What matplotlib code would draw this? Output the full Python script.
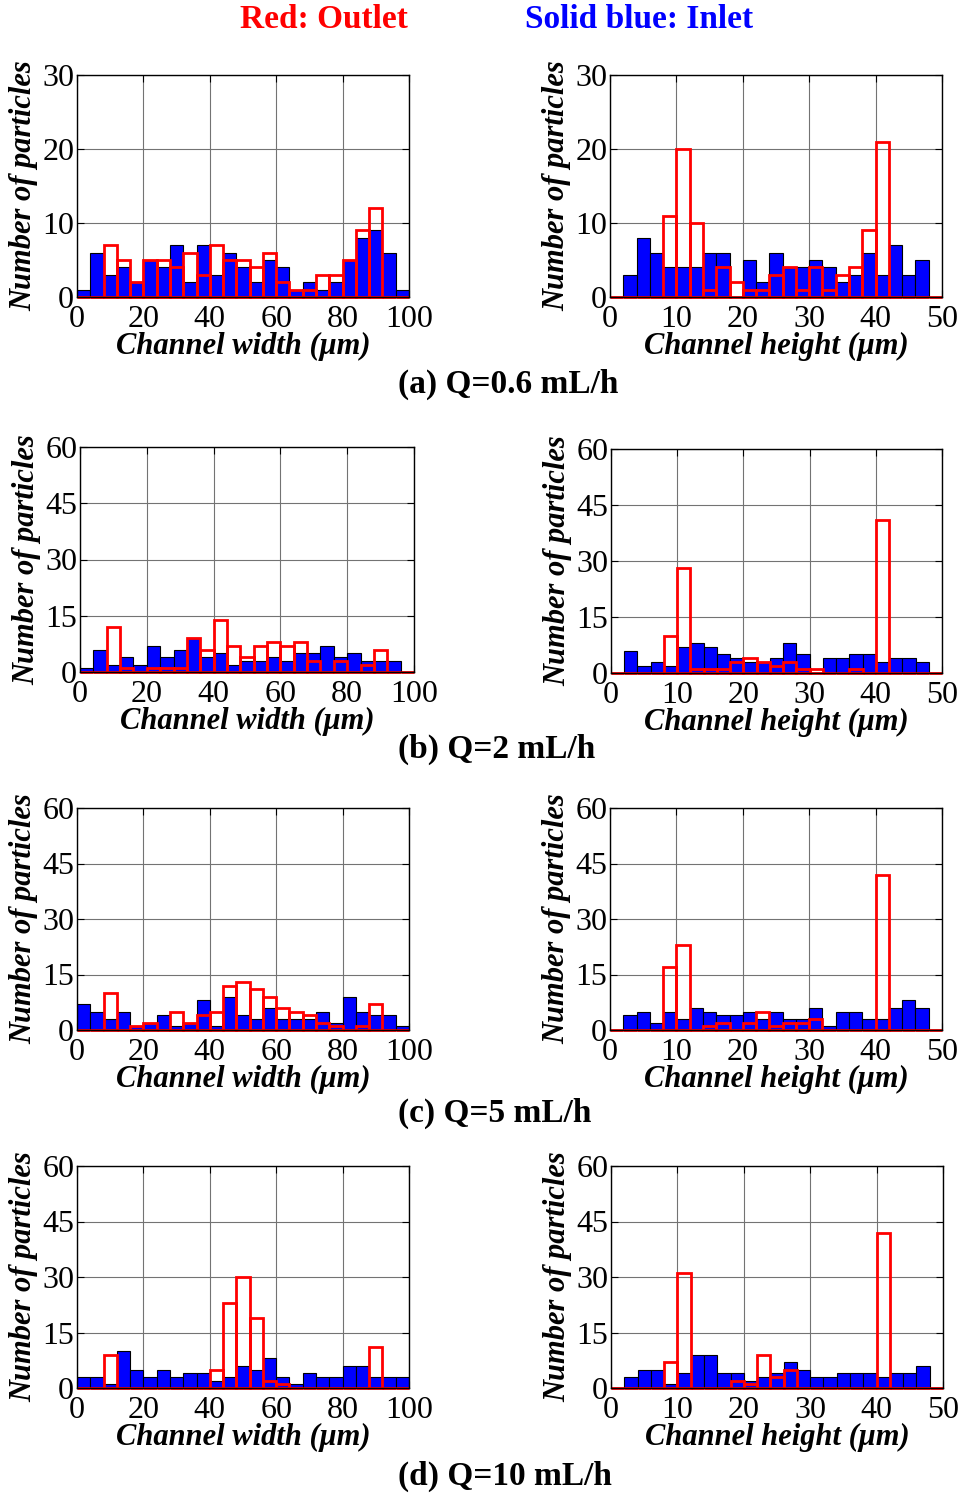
import matplotlib
matplotlib.use("Agg")
import matplotlib.pyplot as plt
import numpy as np

plt.rcParams['font.family'] = ['Liberation Serif', 'DejaVu Serif']

W, H = 964, 1497
my_dpi = 100

# histogram counts, 25 bins each (width: 0-100 um, height: 0-50 um)
width_in_a = [1, 6, 3, 4, 2, 5, 4, 7, 2, 7, 3, 6, 4, 2, 5, 4, 1, 2, 1, 2, 5, 8, 9, 6, 1]
width_out_a = [0, 0, 7, 5, 2, 5, 5, 4, 6, 3, 7, 5, 5, 4, 6, 2, 1, 1, 3, 3, 5, 9, 12, 0, 0]
height_in_a = [0, 3, 8, 6, 4, 4, 4, 6, 6, 0, 5, 2, 6, 4, 4, 5, 4, 2, 3, 6, 3, 7, 3, 5, 0]
height_out_a = [0, 0, 0, 0, 11, 20, 10, 1, 4, 2, 1, 1, 3, 4, 1, 4, 1, 3, 4, 9, 21, 0, 0, 0, 0]

width_in_b = [1, 6, 2, 4, 2, 7, 4, 6, 9, 4, 5, 2, 3, 3, 4, 3, 5, 5, 7, 4, 5, 3, 3, 3, 0]
width_out_b = [0, 0, 12, 1, 0, 1, 1, 1, 9, 6, 14, 7, 4, 7, 8, 7, 8, 3, 0, 3, 0, 2, 6, 0, 0]
height_in_b = [0, 6, 2, 3, 2, 7, 8, 7, 5, 4, 3, 3, 4, 8, 5, 0, 4, 4, 5, 5, 3, 4, 4, 3, 0]
height_out_b = [0, 0, 0, 0, 10, 28, 1, 1, 1, 3, 4, 3, 2, 3, 1, 1, 0, 0, 1, 0, 41, 0, 0, 0, 0]

width_in_c = [7, 5, 3, 5, 1, 2, 4, 1, 2, 8, 1, 9, 4, 3, 6, 3, 3, 3, 5, 2, 9, 5, 4, 4, 1]
width_out_c = [0, 0, 10, 0, 1, 2, 0, 5, 2, 4, 5, 12, 13, 11, 9, 6, 5, 4, 2, 1, 0, 1, 7, 0, 0]
height_in_c = [0, 4, 5, 2, 5, 3, 6, 5, 4, 4, 5, 3, 5, 3, 3, 6, 1, 5, 5, 3, 3, 6, 8, 6, 0]
height_out_c = [0, 0, 0, 0, 17, 23, 0, 1, 2, 0, 2, 5, 1, 2, 2, 3, 0, 0, 0, 0, 42, 0, 0, 0, 0]

width_in_d = [3, 3, 1, 10, 5, 3, 5, 3, 4, 4, 2, 3, 6, 5, 8, 3, 1, 4, 3, 3, 6, 6, 3, 3, 3]
width_out_d = [0, 0, 9, 0, 0, 0, 0, 0, 0, 0, 5, 23, 30, 19, 2, 1, 0, 0, 0, 0, 0, 0, 11, 0, 0]
height_in_d = [0, 3, 5, 5, 1, 4, 9, 9, 4, 4, 2, 3, 4, 7, 5, 3, 3, 4, 4, 4, 3, 4, 4, 6, 0]
height_out_d = [0, 0, 0, 0, 7, 31, 0, 0, 0, 2, 1, 9, 3, 5, 0, 0, 0, 0, 0, 0, 42, 0, 0, 0, 0]

captions = ["(a) Q=0.6 mL/h", "(b) Q=2 mL/h", "(c) Q=5 mL/h", "(d) Q=10 mL/h"]
ymax = [30, 60, 60, 60]
ystep = [10, 15, 15, 15]

rows = [
    (width_in_a, width_out_a, height_in_a, height_out_a),
    (width_in_b, width_out_b, height_in_b, height_out_b),
    (width_in_c, width_out_c, height_in_c, height_out_c),
    (width_in_d, width_out_d, height_in_d, height_out_d),
]

# axes boxes in pixels: (left, top, right, bottom)
boxes_left = [(77, 75, 409, 297), (80, 447, 414, 672), (77, 808, 409, 1030), (77, 1166, 409, 1388)]
boxes_right = [(610, 75, 942, 297), (611, 449, 942, 673), (610, 808, 942, 1030), (611, 1166, 943, 1388)]
caption_y = [384, 749, 1113, 1476]

tick_fs = 23
label_fs = 22

fig = plt.figure(figsize=(W / my_dpi, H / my_dpi), dpi=my_dpi)


def px_axes(box):
    x0, y0, x1, y1 = box
    return fig.add_axes([x0 / W, 1 - y1 / H, (x1 - x0) / W, (y1 - y0) / H])


def draw_hist(box, inlet, outlet, xmax, top, step, xlabel):
    ax = px_axes(box)
    nb = len(inlet)
    bw = xmax / nb
    edges = np.arange(nb) * bw
    ax.bar(edges, inlet, width=bw, align='edge', color='#0000ff',
           edgecolor='black', linewidth=0.8, zorder=2)
    ax.bar(edges, outlet, width=bw, align='edge', fill=False,
           edgecolor='#ff0000', linewidth=2.0, zorder=3, clip_on=False)
    ax.set_xlim(0, xmax)
    ax.set_ylim(0, top)
    ax.set_xticks(np.arange(0, xmax + 1, xmax // 5))
    ax.set_yticks(np.arange(0, top + 1, step))
    ax.grid(True, color='0.45', linewidth=0.8, zorder=0)
    ax.set_axisbelow(True)
    ax.tick_params(direction='in', length=5, width=0.8, labelsize=tick_fs,
                   top=True, right=True)
    ax.tick_params(axis='x', pad=6)
    ax.tick_params(axis='y', pad=2)
    for s in ax.spines.values():
        s.set_linewidth(1.0)
        s.set_zorder(4)
    x0, y0, x1, y1 = box
    fig.text((x0 + x1) / 2 / W, 1 - (y1 + 49) / H, xlabel, ha='center', va='center',
             fontsize=label_fs, fontweight='bold', fontstyle='italic')
    fig.text((x0 - 53) / W, 1 - (y0 + y1) / 2 / H, "Number of particles",
             rotation=90, ha='center', va='center',
             fontsize=label_fs, fontweight='bold', fontstyle='italic')
    return ax


for i, (w_in, w_out, h_in, h_out) in enumerate(rows):
    draw_hist(boxes_left[i], w_in, w_out, 100, ymax[i], ystep[i], "Channel width (μm)")
    draw_hist(boxes_right[i], h_in, h_out, 50, ymax[i], ystep[i], "Channel height (μm)")
    fig.text(398 / W, 1 - caption_y[i] / H, captions[i], ha='left', va='center',
             fontsize=24, fontweight='bold')

fig.text(240 / W, 1 - 20 / H, "Red: Outlet", ha='left', va='center',
         fontsize=24, fontweight='bold', color='#ff0000')
fig.text(525 / W, 1 - 20 / H, "Solid blue: Inlet", ha='left', va='center',
         fontsize=24, fontweight='bold', color='#0000ff')

fig.savefig("out.png", dpi=my_dpi)
